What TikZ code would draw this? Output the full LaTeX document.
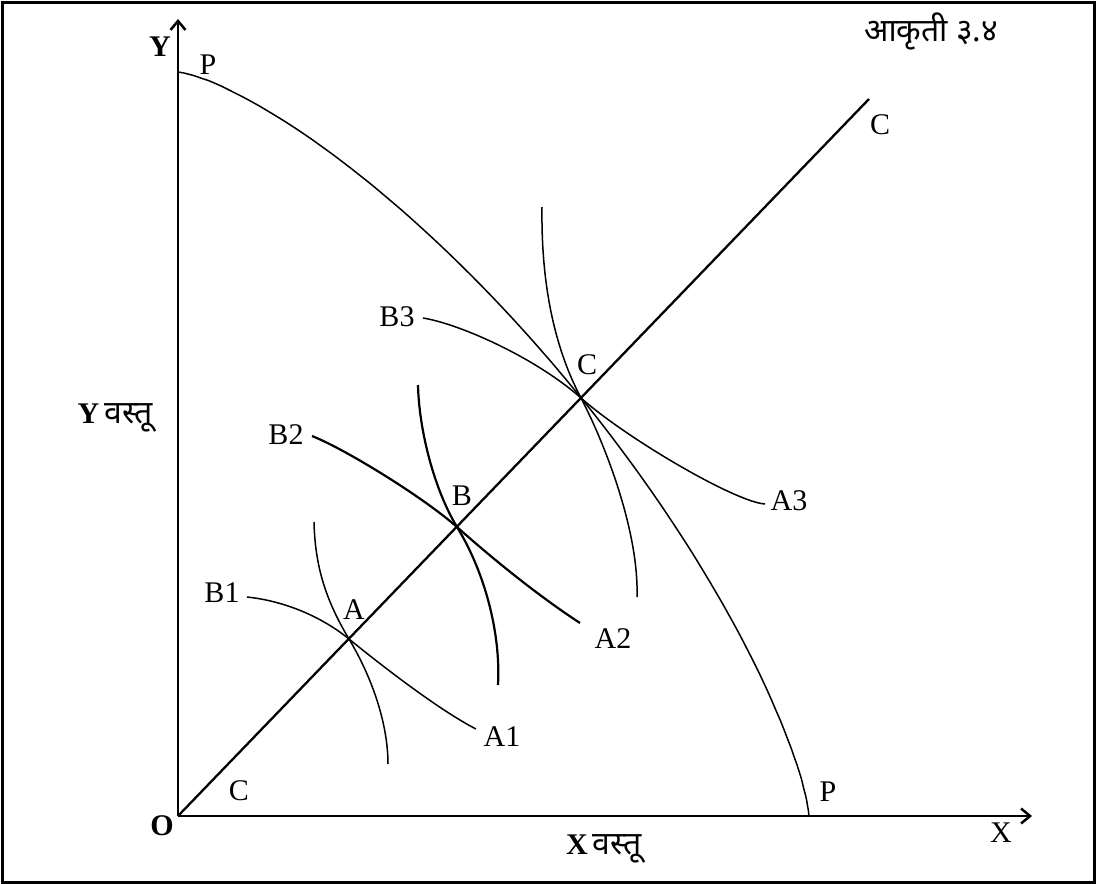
\documentclass[tikz,border=0pt]{standalone}
\usepackage{fontspec}
\setmainfont{Liberation Serif}
\newfontfamily\devfont[Script=Devanagari]{Noto Sans}
\usetikzlibrary{arrows.meta}

\begin{document}
\begin{tikzpicture}[x=1pt, y=-1pt, >={Straight Barb[length=9pt,width=15pt]},
    lbl/.style={font=\fontsize{30}{31}\selectfont, inner sep=0pt},
    dev/.style={font=\devfont\fontsize{32}{33}\selectfont, inner sep=0pt},
    curve/.style={line width=1.5pt},
    heavy/.style={line width=2.2pt}]
  \useasboundingbox (0,0) rectangle (1096,884);
  \draw[line width=3pt] (2,2) rectangle (1094,882);

  % Axes
  \coordinate (O) at (178,816);
  \coordinate (Xend) at (1032,816);
  \coordinate (Yend) at (178,19);
  \draw[->, line width=2.5pt] (O) -- (Xend);
  \draw[->, line width=2.5pt] (O) -- (Yend);

  % Ray OC and the points on it
  \coordinate (Cend) at (869,99);
  \coordinate (A) at (349,639);
  \coordinate (B) at (457,527);
  \coordinate (C) at (581,398);
  \draw[line width=2.3pt] (O) -- (Cend);

  % Production possibility curve PP
  \coordinate (Ptop) at (178,72);
  \coordinate (Pbot) at (809,816);
  \draw[curve] (Ptop) -- plot[domain=0.2:89.8, samples=90, smooth]
    ({178+631*pow(sin(\x),1.47)}, {816-744*pow(cos(\x),1.47)}) -- (Pbot);

  % Curves through A
  \draw[curve] (314,522) .. controls (315,565) and (325,599) .. (A)
    .. controls (373,679) and (388,725) .. (388,764);
  \draw[curve] (247,597) .. controls (285,601) and (322,617) .. (A)
    .. controls (376,661) and (437,709) .. (476,729);

  % Curves through B
  \draw[heavy] (418,385) .. controls (419,430) and (434,489) .. (B)
    .. controls (483,569) and (501,630) .. (498,685);
  \draw[heavy] (312,436) .. controls (345,449) and (423,497) .. (B)
    .. controls (494,560) and (540,597) .. (580,623);

  % Curves through C
  \draw[curve] (542,207) .. controls (541,280) and (553,345) .. (C)
    .. controls (604,442) and (639,530) .. (637,597);
  \draw[curve] (423,318) .. controls (460,324) and (536,358) .. (C)
    .. controls (626,438) and (735,502) .. (765,504);

  % Labels
  \node[lbl, font=\fontsize{30}{31}\selectfont\bfseries] (ylab) at (160,47) {Y};
  \node[lbl] (ptop) at (208,65) {P};
  \node[lbl] (cend) at (880,125) {C};
  \node[dev] (fig) at (931,31) {आकृती ३.४};
  \node[lbl, anchor=east] (ygood) at (153,418)
    {\textbf{Y}\,{\devfont\fontsize{32}{33}\selectfont वस्तू}};
  \node[lbl, font=\fontsize{30}{31}\selectfont\bfseries] (olab) at (162,826) {O};
  \node[lbl] (cbot) at (239,791) {C};
  \node[lbl] (xlab) at (1001,833) {X};
  \node[lbl, anchor=west] (xgood) at (566,849)
    {\textbf{X}\,{\devfont\fontsize{32}{33}\selectfont वस्तू}};
  \node[lbl] (pbot) at (828,792) {P};
  \node[lbl] (alab) at (354,610) {A};
  \node[lbl] (blab) at (462,496) {B};
  \node[lbl] (clab) at (587,365) {C};
  \node[lbl] (b1) at (222,593) {B1};
  \node[lbl] (b2) at (286,435) {B2};
  \node[lbl] (b3) at (397,317) {B3};
  \node[lbl] (a1) at (502,737) {A1};
  \node[lbl] (a2) at (613,639) {A2};
  \node[lbl] (a3) at (789,501) {A3};
\end{tikzpicture}
\end{document}
